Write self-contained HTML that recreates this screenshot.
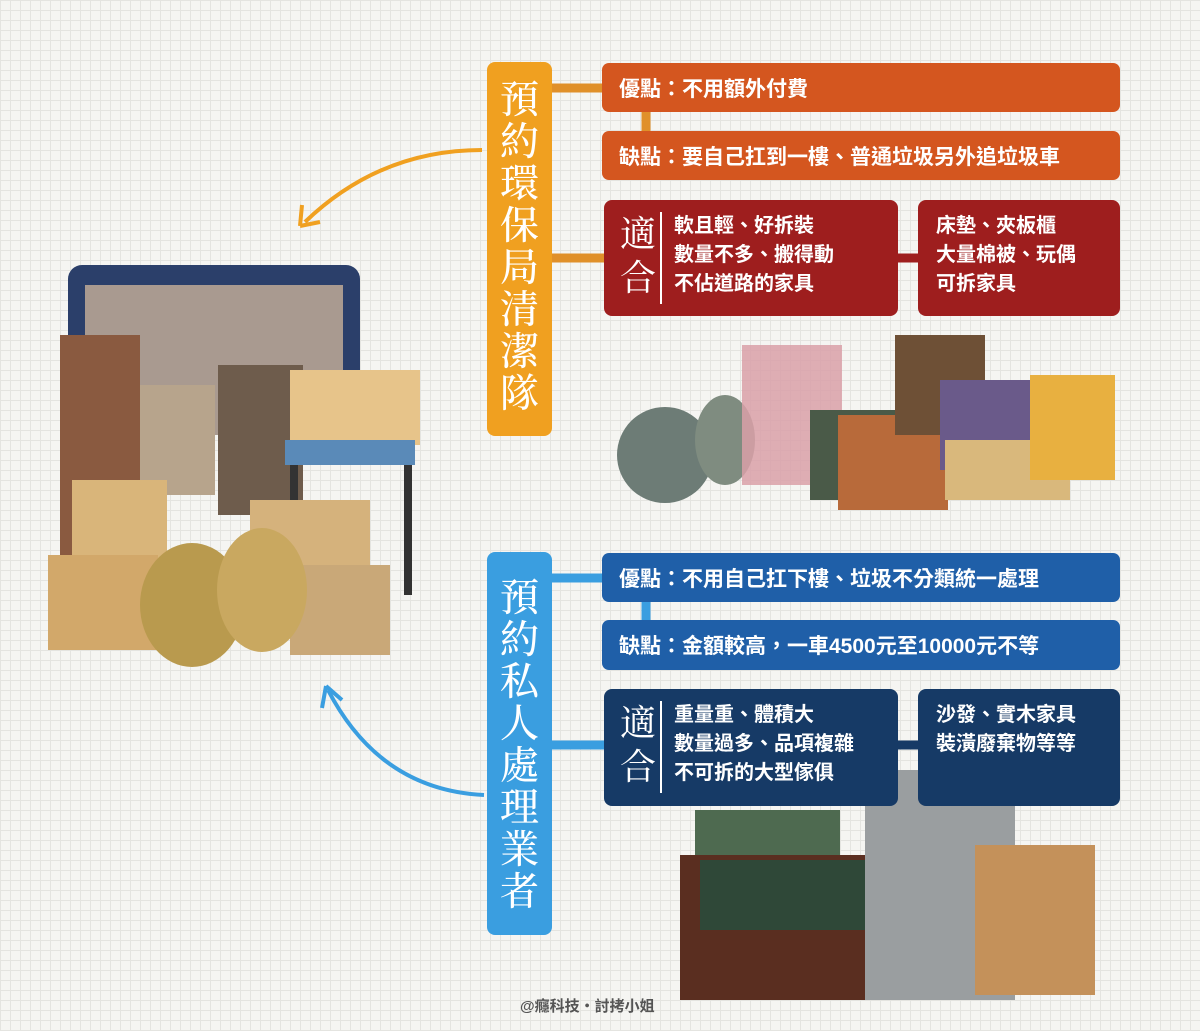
<!DOCTYPE html>
<html><head><meta charset="utf-8"><style>
*{margin:0;padding:0;box-sizing:border-box}
body{width:1200px;height:1031px;position:relative;overflow:hidden;background-color:#f5f5f2;
background-image:linear-gradient(#e4e4e0 1px,transparent 1px),linear-gradient(90deg,#e4e4e0 1px,transparent 1px);background-size:10px 10px;
font-family:"Liberation Sans","Noto Sans CJK TC",sans-serif;}
.a{position:absolute}
.title{color:#fff;font-family:"Liberation Serif","Noto Serif CJK SC",serif;font-size:39px;line-height:42px;text-align:center;font-weight:500;border-radius:8px}
.bar{color:#fff;font-size:21px;font-weight:bold;padding-left:17px;display:flex;align-items:center;border-radius:7px}
.box{color:#fff;font-size:20px;font-weight:bold;line-height:29px;border-radius:8px}
.fit{font-family:"Liberation Serif","Noto Serif CJK SC",serif;font-size:36px;line-height:44px;font-weight:normal;width:36px}
</style></head><body>
<svg class="a" style="left:0;top:0" width="1200" height="1031">
<path d="M482 150 Q380 150 305 222" fill="none" stroke="#f0a020" stroke-width="4"/>
<path d="M300 226 L302 205 M300 226 L320 222" stroke="#f0a020" stroke-width="4" fill="none"/>
<path d="M484 795 Q380 790 328 690" fill="none" stroke="#3a9ee0" stroke-width="4"/>
<path d="M326 686 L322 708 M326 686 L342 700" stroke="#3a9ee0" stroke-width="4" fill="none"/>
<g stroke="#e0902a" stroke-width="9"><line x1="550" y1="88" x2="605" y2="88"/><line x1="550" y1="258" x2="605" y2="258"/><line x1="646" y1="110" x2="646" y2="132"/></g>
<line x1="896" y1="258" x2="920" y2="258" stroke="#9e1e1e" stroke-width="9"/>
<g stroke="#3a9ee0" stroke-width="9"><line x1="550" y1="578" x2="605" y2="578"/><line x1="550" y1="745" x2="605" y2="745"/><line x1="646" y1="600" x2="646" y2="622"/></g>
<line x1="896" y1="745" x2="920" y2="745" stroke="#163a66" stroke-width="9"/>
<rect x="68" y="265" width="292" height="170" rx="14" fill="#2b3f6a"/>
<rect x="85" y="285" width="258" height="150" fill="#a99a90"/>
<rect x="60" y="335" width="80" height="230" fill="#8a5a40"/>
<rect x="140" y="385" width="75" height="110" fill="#b7a48c"/>
<rect x="218" y="365" width="85" height="150" fill="#6e5c4c"/>
<rect x="72" y="480" width="95" height="90" fill="#d9b57a"/>
<rect x="48" y="555" width="110" height="95" fill="#d2a86a"/>
<rect x="290" y="370" width="130" height="75" fill="#e7c48a"/>
<rect x="285" y="440" width="130" height="25" fill="#5a8ab8"/>
<rect x="290" y="465" width="8" height="120" fill="#333"/><rect x="404" y="465" width="8" height="130" fill="#333"/>
<rect x="250" y="500" width="120" height="80" fill="#d5b27c"/>
<rect x="290" y="565" width="100" height="90" fill="#c9a878"/>
<ellipse cx="192" cy="605" rx="52" ry="62" fill="#b99a4e"/>
<ellipse cx="262" cy="590" rx="45" ry="62" fill="#c9a860"/>
<ellipse cx="665" cy="455" rx="48" ry="48" fill="#6d7c76"/>
<ellipse cx="725" cy="440" rx="30" ry="45" fill="#7f8c80"/>
<rect x="742" y="345" width="100" height="140" fill="#d9a0a8" opacity=".85"/>
<rect x="810" y="410" width="100" height="90" fill="#4a5a48"/>
<rect x="838" y="415" width="110" height="95" fill="#b86a3a"/>
<rect x="895" y="335" width="90" height="100" fill="#6e5036"/>
<rect x="940" y="380" width="110" height="90" fill="#6a5a8a"/>
<rect x="945" y="440" width="125" height="60" fill="#d9b87c"/>
<rect x="1030" y="375" width="85" height="105" fill="#e8b040"/>
<rect x="695" y="810" width="145" height="60" fill="#4e6a50"/>
<rect x="680" y="855" width="220" height="145" fill="#5a2e20"/>
<rect x="700" y="860" width="180" height="70" fill="#2f4838"/>
<rect x="865" y="770" width="150" height="230" fill="#9a9ea0"/>
<rect x="975" y="845" width="120" height="150" fill="#c4915a"/>
</svg>
<div class="a title" style="left:487px;top:62px;width:65px;height:374px;background:#f0a020;padding-top:18px">預<br>約<br>環<br>保<br>局<br>清<br>潔<br>隊</div>
<div class="a bar" style="left:602px;top:63px;width:518px;height:49px;background:#d4561f">優點：不用額外付費</div>
<div class="a bar" style="left:602px;top:131px;width:518px;height:49px;background:#d4561f">缺點：要自己扛到一樓、普通垃圾另外追垃圾車</div>
<div class="a box" style="left:604px;top:200px;width:294px;height:116px;background:#9e1e1e;display:flex;padding:12px 0 0 16px">
<div class="fit">適<br>合</div><div style="border-left:2px solid #fff;margin:0 12px 0 4px;height:92px"></div><div>軟且輕、好拆裝<br>數量不多、搬得動<br>不佔道路的家具</div></div>
<div class="a box" style="left:918px;top:200px;width:202px;height:116px;background:#9e1e1e;padding:12px 0 0 18px">床墊、夾板櫃<br>大量棉被、玩偶<br>可拆家具</div>
<div class="a title" style="left:487px;top:552px;width:65px;height:383px;background:#3a9ee0;padding-top:26px">預<br>約<br>私<br>人<br>處<br>理<br>業<br>者</div>
<div class="a bar" style="left:602px;top:553px;width:518px;height:49px;background:#1f5fa8">優點：不用自己扛下樓、垃圾不分類統一處理</div>
<div class="a bar" style="left:602px;top:620px;width:518px;height:50px;background:#1f5fa8">缺點：金額較高，一車4500元至10000元不等</div>
<div class="a box" style="left:604px;top:689px;width:294px;height:117px;background:#163a66;display:flex;padding:12px 0 0 16px">
<div class="fit">適<br>合</div><div style="border-left:2px solid #fff;margin:0 12px 0 4px;height:92px"></div><div>重量重、體積大<br>數量過多、品項複雜<br>不可拆的大型傢俱</div></div>
<div class="a box" style="left:918px;top:689px;width:202px;height:117px;background:#163a66;padding:12px 0 0 18px">沙發、實木家具<br>裝潢廢棄物等等</div>
<div class="a" style="left:520px;top:995px;font-size:15px;color:#555;font-weight:bold">@癮科技・討拷小姐</div>
</body></html>
